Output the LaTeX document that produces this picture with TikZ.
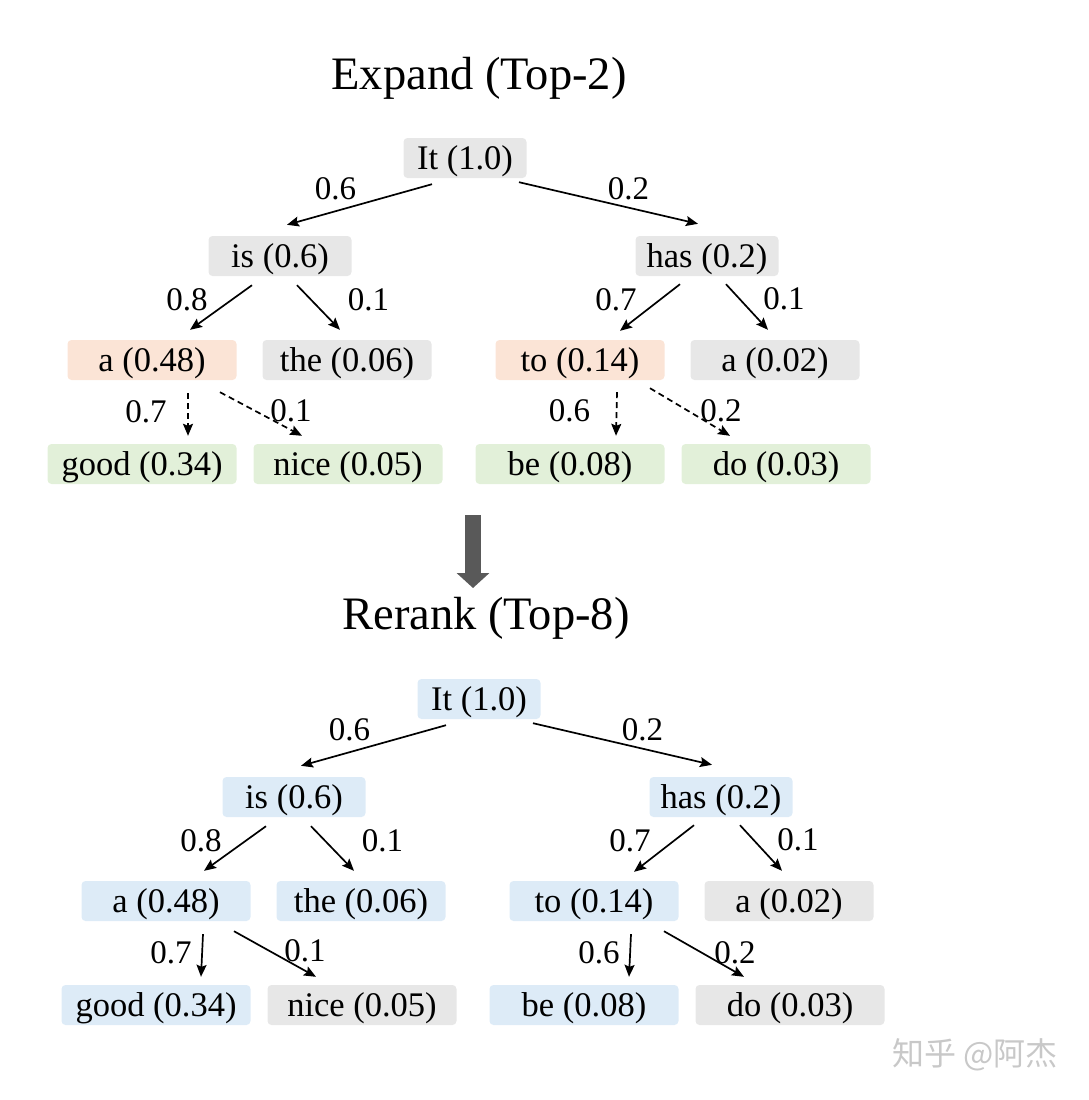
\documentclass[tikz,border=0pt]{standalone}
\usepackage{fontspec}
\setmainfont{Liberation Serif}
\newfontfamily\cjkfont{Noto Sans CJK SC}
\usetikzlibrary{positioning,arrows.meta}
\definecolor{boxgray}{RGB}{231,231,231}
\definecolor{boxorange}{RGB}{251,228,214}
\definecolor{boxgreen}{RGB}{226,240,217}
\definecolor{boxblue}{RGB}{221,235,247}
\definecolor{bigarrow}{RGB}{89,89,89}
\definecolor{markgray}{RGB}{200,200,200}

\begin{document}
\begin{tikzpicture}[
                      x=1pt, y=-1pt,
                      on grid,
                      tok/.style={rounded corners=4pt, inner sep=0pt, minimum height=40pt,
                                  text height=29pt, text depth=7pt,
                                  font=\fontsize{34.5}{40}\selectfont},
                      lvlzero/.style={tok, minimum width=123pt},
                      lvlone/.style={tok, minimum width=143pt},
                      lvltwo/.style={tok, minimum width=169pt},
                      lvlthree/.style={tok, minimum width=189pt},
                      prob/.style={font=\fontsize{33}{40}\selectfont, inner sep=0pt},
                      link/.style={-{Stealth[length=12pt,width=10pt,inset=2pt]}, line width=1.7pt},
                      guess/.style={link, dash pattern=on 6pt off 4pt},
                      heading/.style={font=\fontsize{46.5}{54}\selectfont}]
                      \useasboundingbox (0,0) rectangle (1088,1100);

                      % expand step
                      \node[heading] (expand) at (479,78) {Expand (Top-2)};
                      \node[lvlzero, fill=boxgray] (It) at (465,158) {It (1.0)};
                      \node[lvlone, fill=boxgray] (is) [below left=98pt and 185pt of It] {is (0.6)};
                      \node[lvlone, fill=boxgray] (has) [below right=98pt and 242pt of It] {has (0.2)};
                      \node[lvltwo, fill=boxorange] (a) [below left=104pt and 128pt of is] {a (0.48)};
                      \node[lvltwo, fill=boxgray] (the) [below right=104pt and 67pt of is] {the (0.06)};
                      \node[lvltwo, fill=boxorange] (to) [below left=104pt and 127pt of has] {to (0.14)};
                      \node[lvltwo, fill=boxgray] (aa) [below right=104pt and 68pt of has] {a (0.02)};
                      \node[lvlthree, fill=boxgreen] (good) [below left=104pt and 10pt of a] {good (0.34)};
                      \node[lvlthree, fill=boxgreen] (nice) [below right=104pt and 196pt of a] {nice (0.05)};
                      \node[lvlthree, fill=boxgreen] (be) [below left=104pt and 10pt of to] {be (0.08)};
                      \node[lvlthree, fill=boxgreen] (do) [below right=104pt and 196pt of to] {do (0.03)};

                      \draw[link] ([shift={(-33pt,-6pt)}]It.south) -- node[prob, xshift=-24pt, yshift=16pt] {0.6} ([shift={(7pt,11pt)}]is.north);
                      \draw[link] ([shift={(54pt,-4pt)}]It.south) -- node[prob, xshift=20pt, yshift=14pt] {0.2} ([shift={(-9pt,12pt)}]has.north);
                      \draw[link] ([shift={(-28pt,-9pt)}]is.south) -- node[prob, xshift=-34pt, yshift=8pt] {0.8} ([shift={(38pt,10pt)}]a.north);
                      \draw[link] ([shift={(17pt,-9pt)}]is.south) -- node[prob, xshift=50pt, yshift=8pt] {0.1} ([shift={(-7pt,10pt)}]the.north);
                      \draw[link] ([shift={(-27pt,-8pt)}]has.south) -- node[prob, xshift=-34pt, yshift=8pt] {0.7} ([shift={(40pt,9pt)}]to.north);
                      \draw[link] ([shift={(19pt,-8pt)}]has.south) -- node[prob, xshift=37pt, yshift=8pt] {0.1} ([shift={(-7pt,10pt)}]aa.north);
                      \draw[guess] ([shift={(36pt,-13pt)}]a.south) -- node[prob, xshift=-42pt, yshift=3pt] {0.7} ([shift={(46pt,8pt)}]good.north);
                      \draw[guess] ([shift={(68pt,-12pt)}]a.south) -- node[prob, xshift=30pt, yshift=3pt] {0.1} ([shift={(-46pt,8pt)}]nice.north);
                      \draw[guess] ([shift={(37pt,-12pt)}]to.south) -- node[prob, xshift=-47pt, yshift=3pt] {0.6} ([shift={(46pt,8pt)}]be.north);
                      \draw[guess] ([shift={(70pt,-8pt)}]to.south) -- node[prob, xshift=31pt, yshift=1pt] {0.2} ([shift={(-46pt,8pt)}]do.north);

                      % step arrow
                      \coordinate (steptop) at (473,515);
                      \coordinate (steptip) at (473,588);
                      \draw[bigarrow, line width=16pt, -{Triangle[width=32pt,length=15pt]}] (steptop) -- (steptip);

                      % rerank step
                      \node[heading] (rerank) at (486,618) {Rerank (Top-8)};
                      \node[lvlzero, fill=boxblue] (Itr) at (479,699) {It (1.0)};
                      \node[lvlone, fill=boxblue] (isr) [below left=98pt and 185pt of Itr] {is (0.6)};
                      \node[lvlone, fill=boxblue] (hasr) [below right=98pt and 242pt of Itr] {has (0.2)};
                      \node[lvltwo, fill=boxblue] (ar) [below left=104pt and 128pt of isr] {a (0.48)};
                      \node[lvltwo, fill=boxblue] (ther) [below right=104pt and 67pt of isr] {the (0.06)};
                      \node[lvltwo, fill=boxblue] (tor) [below left=104pt and 127pt of hasr] {to (0.14)};
                      \node[lvltwo, fill=boxgray] (aar) [below right=104pt and 68pt of hasr] {a (0.02)};
                      \node[lvlthree, fill=boxblue] (goodr) [below left=104pt and 10pt of ar] {good (0.34)};
                      \node[lvlthree, fill=boxgray] (nicer) [below right=104pt and 196pt of ar] {nice (0.05)};
                      \node[lvlthree, fill=boxblue] (ber) [below left=104pt and 10pt of tor] {be (0.08)};
                      \node[lvlthree, fill=boxgray] (dor) [below right=104pt and 196pt of tor] {do (0.03)};

                      \draw[link] ([shift={(-33pt,-6pt)}]Itr.south) -- node[prob, xshift=-24pt, yshift=16pt] {0.6} ([shift={(7pt,11pt)}]isr.north);
                      \draw[link] ([shift={(54pt,-4pt)}]Itr.south) -- node[prob, xshift=20pt, yshift=14pt] {0.2} ([shift={(-9pt,12pt)}]hasr.north);
                      \draw[link] ([shift={(-28pt,-9pt)}]isr.south) -- node[prob, xshift=-34pt, yshift=8pt] {0.8} ([shift={(38pt,10pt)}]ar.north);
                      \draw[link] ([shift={(17pt,-9pt)}]isr.south) -- node[prob, xshift=50pt, yshift=8pt] {0.1} ([shift={(-7pt,10pt)}]ther.north);
                      \draw[link] ([shift={(-27pt,-8pt)}]hasr.south) -- node[prob, xshift=-34pt, yshift=8pt] {0.7} ([shift={(40pt,9pt)}]tor.north);
                      \draw[link] ([shift={(19pt,-8pt)}]hasr.south) -- node[prob, xshift=37pt, yshift=8pt] {0.1} ([shift={(-7pt,10pt)}]aar.north);
                      \draw[link] ([shift={(37pt,-13pt)}]ar.south) -- node[prob, xshift=-31pt, yshift=3pt] {0.7} ([shift={(45pt,8pt)}]goodr.north);
                      \draw[link] ([shift={(68pt,-10pt)}]ar.south) -- node[prob, xshift=30pt, yshift=3pt] {0.1} ([shift={(-46pt,8pt)}]nicer.north);
                      \draw[link] ([shift={(37pt,-13pt)}]tor.south) -- node[prob, xshift=-31pt, yshift=3pt] {0.6} ([shift={(45pt,8pt)}]ber.north);
                      \draw[link] ([shift={(70pt,-10pt)}]tor.south) -- node[prob, xshift=31pt, yshift=1pt] {0.2} ([shift={(-46pt,8pt)}]dor.north);

                      \node[font=\cjkfont\fontsize{32}{38}\selectfont, text=markgray] (mark) at (975,1055) {知乎 @阿杰};
                  \end{tikzpicture}
\end{document}
